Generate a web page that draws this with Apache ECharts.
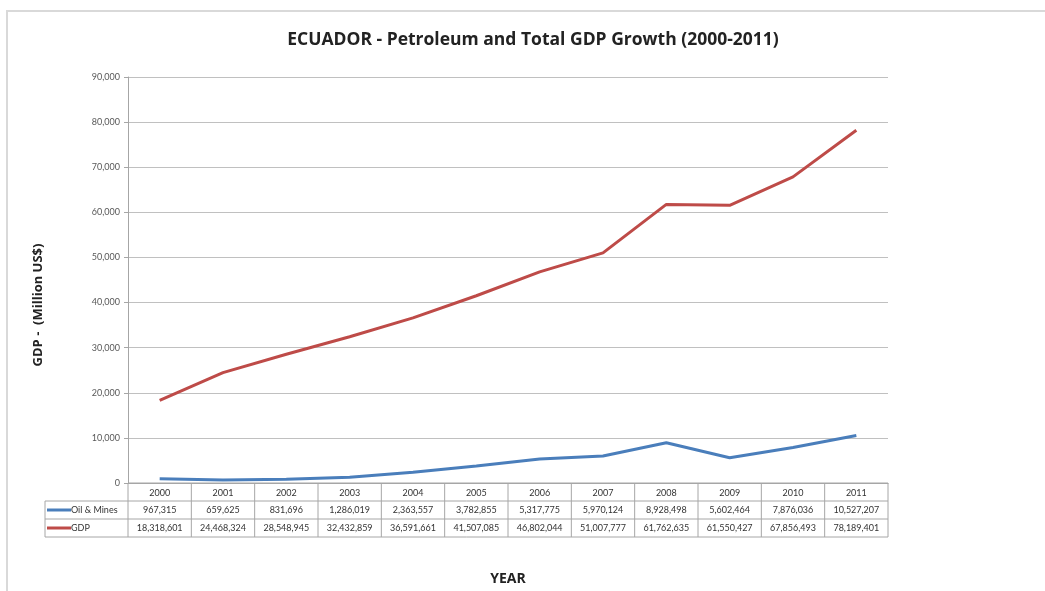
<!DOCTYPE html>
<html><head><meta charset="utf-8">
<script src="https://cdn.jsdelivr.net/npm/echarts@6/dist/echarts.min.js"></script>
<style>html,body{margin:0;padding:0;background:#fff}#c{width:1045px;height:591px}</style>
</head><body><div id="c"></div>
<script>
const years = ['2000','2001','2002','2003','2004','2005','2006','2007','2008','2009','2010','2011'];
const oilMines = [967315, 659625, 831696, 1286019, 2363557, 3782855, 5317775, 5970124, 8928498, 5602464, 7876036, 10527207];
const gdp = [18318601, 24468324, 28548945, 32432859, 36591661, 41507085, 46802044, 51007777, 61762635, 61550427, 67856493, 78189401];
const seriesNames = ['Oil & Mines', 'GDP'];
const colors = ['#4a7ebb', '#be4b48'];

const FONT = 'Lato, "Open Sans", sans-serif';
const TFONT = '"Open Sans", Lato, sans-serif';
const fmt = v => v.toLocaleString('en-US');
const chart = echarts.init(document.getElementById('c'), null, {renderer: 'canvas'});
chart.setOption({
  animation: false,
  backgroundColor: '#fff',
  grid: {left: 128, right: 157, top: 77, bottom: 107, containLabel: false},
  xAxis: {
    type: 'category', data: years, boundaryGap: true,
    axisLine: {lineStyle: {color: '#a6a6a6', width: 1}},
    axisTick: {show: false}, axisLabel: {show: false},
    name: 'YEAR', nameLocation: 'middle', nameGap: 89,
    nameTextStyle: {fontFamily: TFONT, fontWeight: 'bold', fontSize: 14, color: '#222'}
  },
  yAxis: {
    type: 'value', min: 0, max: 90000000, interval: 10000000,
    axisLine: {show: true, lineStyle: {color: '#a6a6a6'}},
    axisTick: {show: true, length: 4, lineStyle: {color: '#a6a6a6'}},
    splitLine: {lineStyle: {color: '#c0c0c0', width: 1}},
    axisLabel: {formatter: v => fmt(v / 1000), fontFamily: FONT, fontSize: 9, color: '#595959', margin: 8}
  },
  series: [
    {name: seriesNames[0], type: 'line', data: oilMines, symbol: 'none', lineStyle: {color: colors[0], width: 3}, itemStyle: {color: colors[0]}},
    {name: seriesNames[1], type: 'line', data: gdp, symbol: 'none', lineStyle: {color: colors[1], width: 3}, itemStyle: {color: colors[1]}}
  ]
});

const x0 = chart.convertToPixel({xAxisIndex: 0}, 0);
const x1 = chart.convertToPixel({xAxisIndex: 0}, 1);
const band = x1 - x0;
const left = x0 - band / 2;
const right = left + band * years.length;
const yTop = chart.convertToPixel({yAxisIndex: 0}, 0);
const rowH = 18;
const legLeft = 45;
const lineC = '#a6a6a6';
const g = [];
g.push({type: 'rect', shape: {x: 7, y: 11, width: 1100, height: 700}, style: {fill: null, stroke: '#d9d9d9', lineWidth: 2}});
g.push({type: 'text', x: 533, y: 40, style: {text: 'ECUADOR - Petroleum and Total GDP Growth (2000-2011)', font: 'bold 17.5px ' + TFONT, fill: '#222', align: 'center', verticalAlign: 'middle'}});
g.push({type: 'text', x: 38, y: 305, rotation: Math.PI / 2, style: {text: 'GDP -  (Million US$)', font: 'bold 13px ' + TFONT, fill: '#222', align: 'center', verticalAlign: 'middle'}});
g.push({type: 'line', shape: {x1: left, y1: yTop, x2: right, y2: yTop}, style: {stroke: lineC, lineWidth: 1}});
for (let r = 1; r <= 3; r++) {
  const y = yTop + rowH * r;
  g.push({type: 'line', shape: {x1: legLeft, y1: y, x2: right, y2: y}, style: {stroke: lineC, lineWidth: 1}});
}
for (let i = 0; i <= years.length; i++) {
  const x = left + band * i;
  g.push({type: 'line', shape: {x1: x, y1: yTop, x2: x, y2: yTop + rowH * 3}, style: {stroke: lineC, lineWidth: 1}});
}
g.push({type: 'line', shape: {x1: legLeft, y1: yTop + rowH, x2: legLeft, y2: yTop + rowH * 3}, style: {stroke: lineC, lineWidth: 1}});
years.forEach((y, i) => {
  g.push({type: 'text', x: chart.convertToPixel({xAxisIndex: 0}, i), y: yTop + rowH * 0.5 + 1, style: {text: y, font: '9px ' + FONT, fill: '#333', align: 'center', verticalAlign: 'middle'}});
});
[oilMines, gdp].forEach((arr, r) => {
  const yc = yTop + rowH * (r + 1.5);
  g.push({type: 'line', shape: {x1: legLeft + 2, y1: yc, x2: legLeft + 26, y2: yc}, style: {stroke: colors[r], lineWidth: 3}});
  g.push({type: 'text', x: legLeft + 26, y: yc, style: {text: seriesNames[r], font: '9px ' + FONT, fill: '#333', align: 'left', verticalAlign: 'middle'}});
  arr.forEach((v, i) => {
    g.push({type: 'text', x: chart.convertToPixel({xAxisIndex: 0}, i), y: yc, style: {text: fmt(v), font: '9px ' + FONT, fill: '#333', align: 'center', verticalAlign: 'middle'}});
  });
});
chart.setOption({graphic: g.map(e => Object.assign({silent: true}, e))});
</script></body></html>
